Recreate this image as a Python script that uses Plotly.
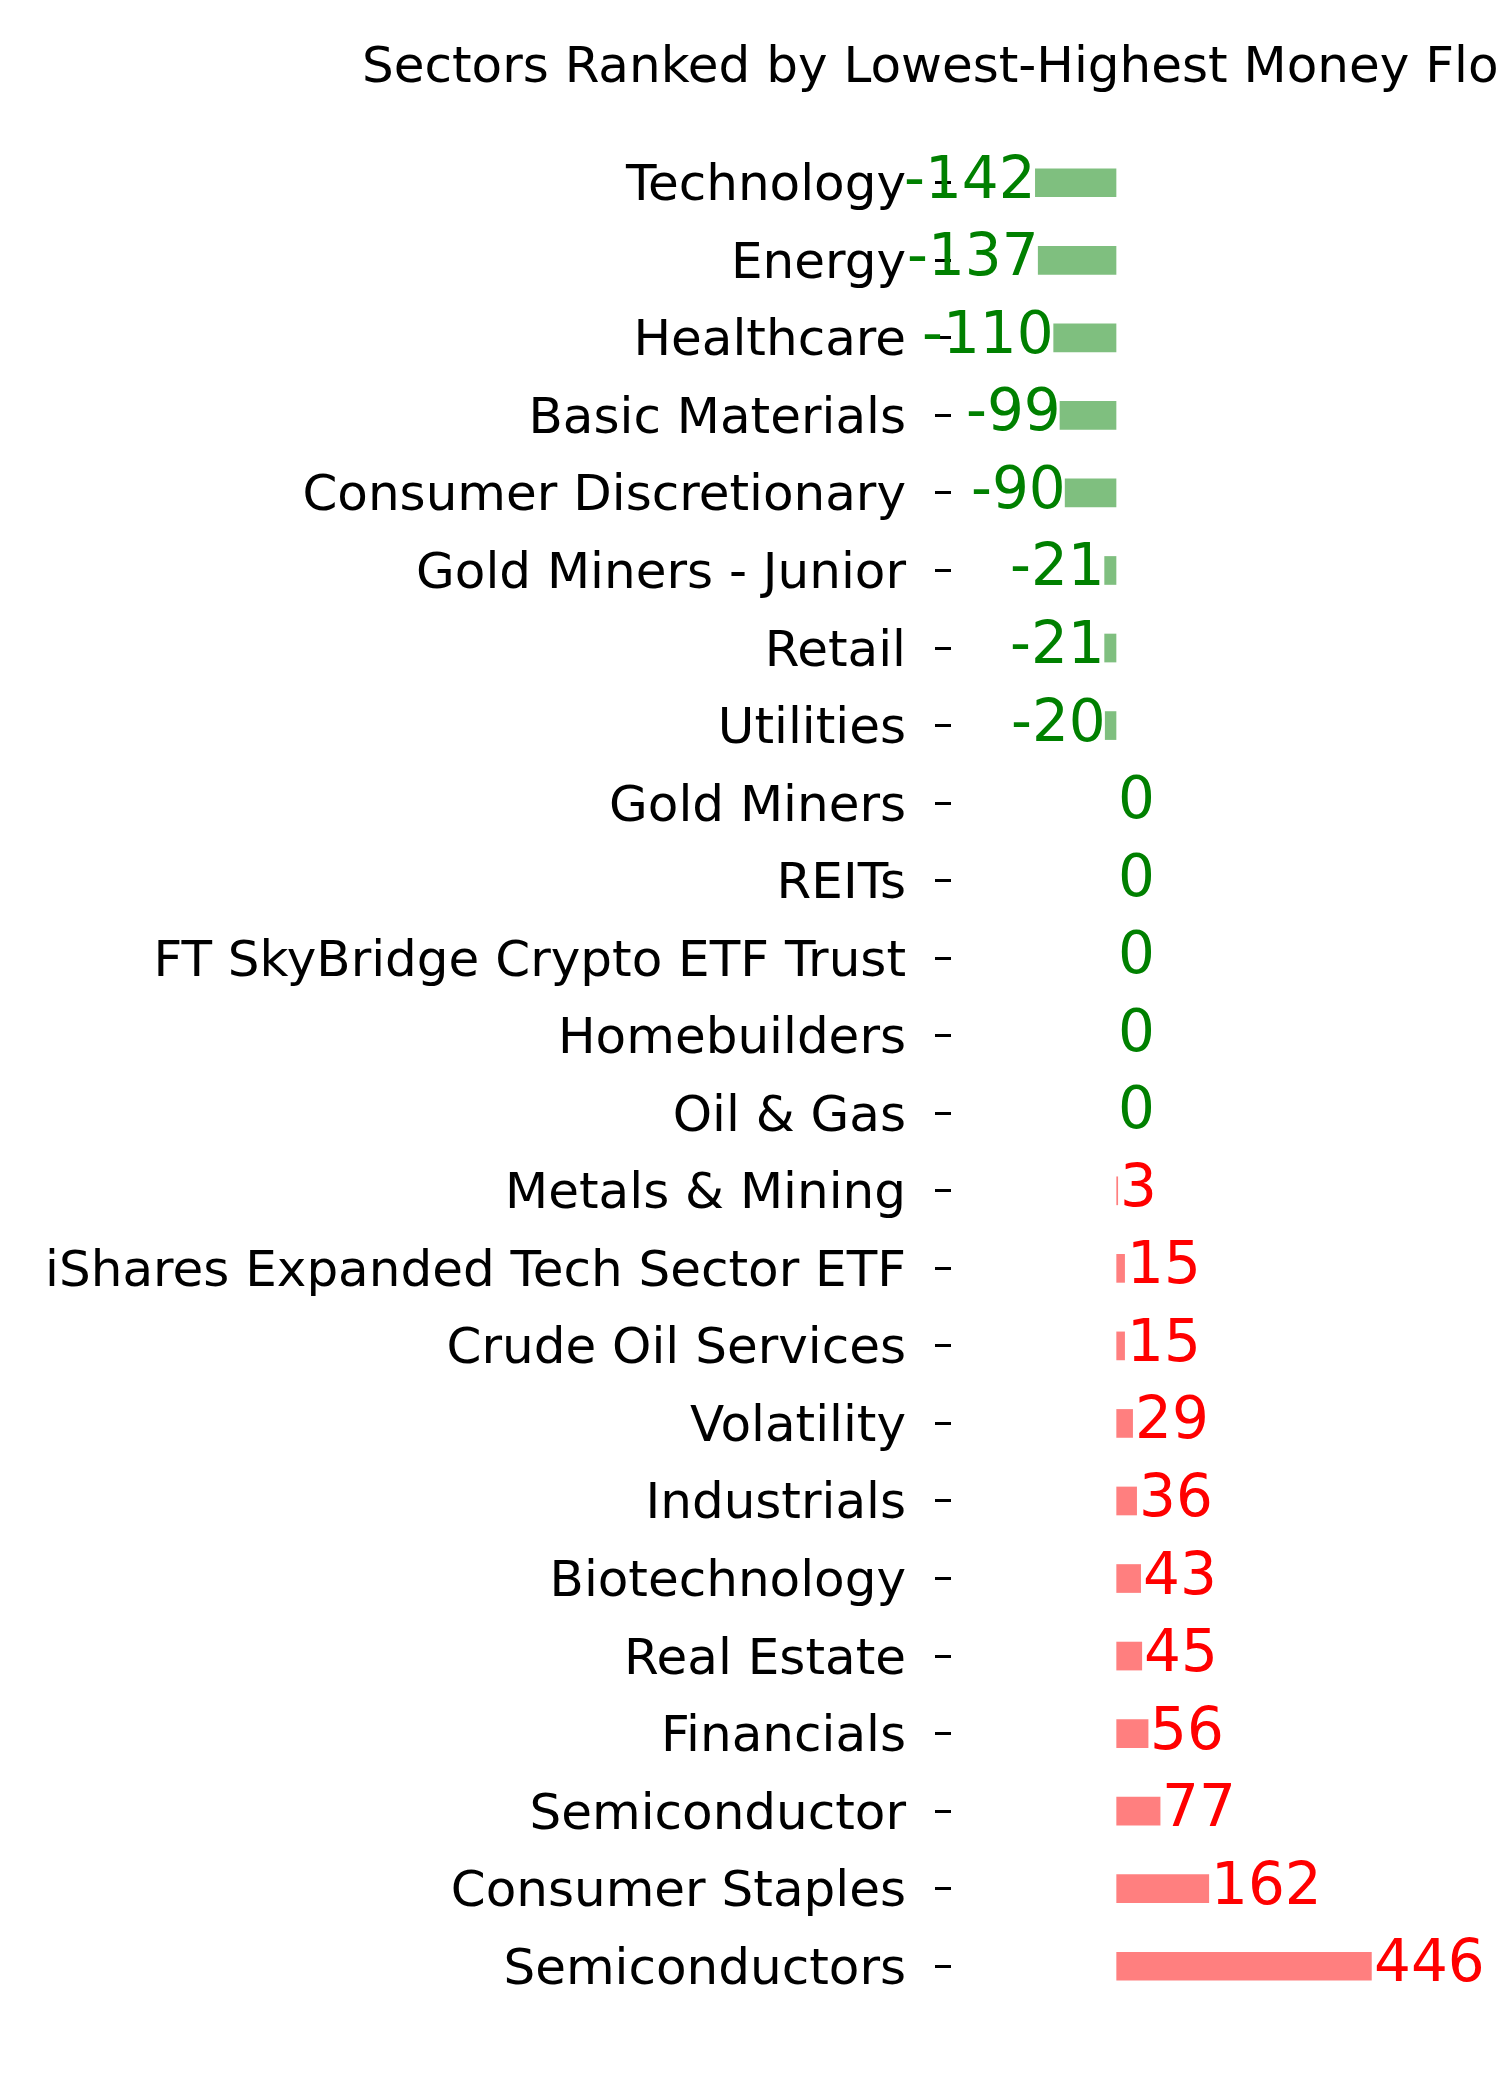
import plotly.graph_objects as go

sectors = [
    "Technology", "Energy", "Healthcare", "Basic Materials", "Consumer Discretionary",
    "Gold Miners - Junior", "Retail", "Utilities", "Gold Miners", "REITs",
    "FT SkyBridge Crypto ETF Trust", "Homebuilders", "Oil & Gas", "Metals & Mining",
    "iShares Expanded Tech Sector ETF", "Crude Oil Services", "Volatility", "Industrials",
    "Biotechnology", "Real Estate", "Financials", "Semiconductor", "Consumer Staples",
    "Semiconductors",
]
money_flow = [-142, -137, -110, -99, -90, -21, -21, -20, 0, 0, 0, 0, 0, 3, 15, 15,
              29, 36, 43, 45, 56, 77, 162, 446]
title_text = "Sectors Ranked by Lowest-Highest Money Flow"

FONT = "DejaVu Sans"
bar_colors = ["rgba(0,128,0,0.5)" if v <= 0 else "rgba(255,0,0,0.5)" for v in money_flow]
text_colors = ["#008000" if v <= 0 else "#ff0000" for v in money_flow]

fig = go.Figure()
fig.add_trace(go.Bar(
    x=money_flow, y=sectors, orientation="h",
    marker=dict(color=bar_colors, line=dict(width=0)),
    width=0.37, showlegend=False, hoverinfo="x+y",
))

for s, v, c in zip(sectors, money_flow, text_colors):
    fig.add_annotation(
        x=v, y=s, xref="x", yref="y", text=str(v), showarrow=False,
        xanchor="right" if v < 0 else "left", yanchor="middle",
        xshift=3 if v < 0 else 0, yshift=5,
        font=dict(family=FONT, size=58, color=c),
    )

fig.update_layout(
    width=1500, height=2100,
    margin=dict(l=952, r=0, t=143.5, b=94.7, pad=0),
    paper_bgcolor="white", plot_bgcolor="white",
    title=dict(text=title_text, xref="container", x=362 / 1500, xanchor="left",
               yref="container", y=1 - 64.5 / 2100, yanchor="middle",
               font=dict(family=FONT, size=50, color="black")),
    font=dict(family=FONT, color="black"),
)
fig.update_xaxes(range=[-287, 670], visible=False, showgrid=False, zeroline=False)
fig.update_yaxes(
    range=[23.5, -0.5], categoryorder="array", categoryarray=sectors,
    showgrid=False, zeroline=False, showline=False,
    ticks="outside", ticklen=16, tickwidth=2.5, tickcolor="black",
    ticklabelstandoff=19,
    tickfont=dict(family=FONT, size=50, color="black"),
)

fig.write_html("out.html")
